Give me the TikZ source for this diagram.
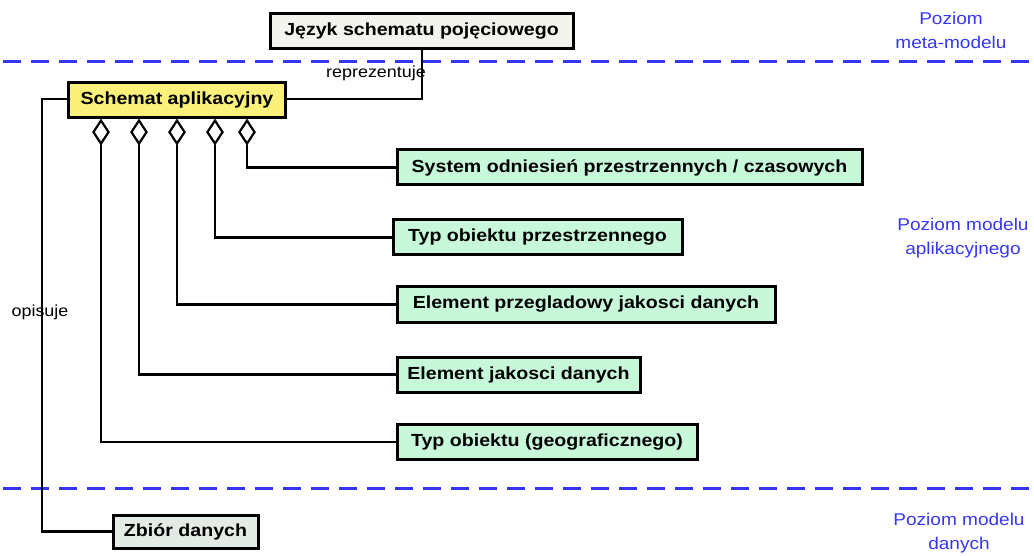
\documentclass[tikz,border=0pt]{standalone}
\usepackage{fontspec}
\setmainfont{Liberation Sans}
\newfontfamily\widesans[FakeStretch=1.12]{Liberation Sans}
\usetikzlibrary{shapes.geometric}
\definecolor{levelblue}{HTML}{3636F5}
\definecolor{metafill}{HTML}{F4F4EE}
\definecolor{appfill}{HTML}{FAF07A}
\definecolor{classfill}{HTML}{C8F8DA}
\definecolor{datafill}{HTML}{E4EBE4}
\tikzset{
  box/.style={draw=black, line width=3pt, rectangle, inner sep=0pt,
    minimum height=35pt, font=\widesans\fontsize{17.5}{20}\selectfont\bfseries},
  level/.style={font=\widesans\fontsize{17}{24}\selectfont, text=levelblue, align=center},
  sep/.style={draw=levelblue, line width=3pt, dash pattern=on 18pt off 10pt},
  conn/.style={draw=black, line width=2.8pt},
  agg/.style={diamond, draw=black, fill=white, line width=2.2pt, inner sep=0pt,
    minimum width=16pt, minimum height=24pt, anchor=north},
  rolelabel/.style={font=\widesans\fontsize{16}{18}\selectfont, inner sep=0pt}
}
\begin{document}
\begin{tikzpicture}[x=1pt,y=-1pt]
\useasboundingbox (0,0) rectangle (1034,556);

% level separators
\coordinate (s1a) at (3,62);   \coordinate (s1b) at (1034,62);
\coordinate (s2a) at (3,488);  \coordinate (s2b) at (1034,488);
\draw[sep] (s1a) -- (s1b);
\draw[sep] (s2a) -- (s2b);

% level names
\node[level] (lvmeta) at (951,30.5) {Poziom\\meta-modelu};
\node[level] (lvapp) at (963,238.5) {Poziom modelu\\aplikacyjnego};
\node[level] (lvdata) at (959,533.5) {Poziom modelu\\danych};

% classes
\node[box, fill=metafill, minimum width=303pt] (jezyk) at (421.5,31.5) {Język schematu pojęciowego};
\node[box, fill=appfill, minimum width=217pt, minimum height=35pt] (schemat) at (177,100) {Schemat aplikacyjny};
\node[box, fill=classfill, minimum width=465pt] (sys) at (629.5,167.5) {System odniesień przestrzennych / czasowych};
\node[box, fill=classfill, minimum width=289pt] (typp) at (537.5,237.5) {Typ obiektu przestrzennego};
\node[box, fill=classfill, minimum width=378pt] (elp) at (586,304.5) {Element przegladowy jakosci danych};
\node[box, fill=classfill, minimum width=243pt] (elj) at (518.5,374.5) {Element jakosci danych};
\node[box, fill=classfill, minimum width=300pt] (typg) at (547,442) {Typ obiektu (geograficznego)};
\node[box, fill=datafill, minimum width=145pt, minimum height=33pt] (zbior) at (185.5,531.5) {Zbiór danych};

% aggregation diamonds under the application schema
\node[agg] (d1) at (101,119) {};
\node[agg] (d2) at (139,119) {};
\node[agg] (d3) at (177,119) {};
\node[agg] (d4) at (215,119) {};
\node[agg] (d5) at (247,119) {};

\draw[conn] (d5.south) |- (sys.west);
\draw[conn] (d4.south) |- (typp.west);
\draw[conn] (d3.south) |- (elp.west);
\draw[conn] (d2.south) |- (elj.west);
\draw[conn] (d1.south) |- (typg.west);

% role labels
\node[rolelabel] (lrep) at (376,73) {reprezentuje};
\node[rolelabel] (lopi) at (40,312) {opisuje};

% associations
\coordinate (repcorner) at (422,99);
\draw[conn] (jezyk.south -| repcorner) -- (repcorner) -- (schemat.east |- repcorner);
\coordinate (opicorner) at (42,99);
\draw[conn] (schemat.west |- opicorner) -- (opicorner) |- (zbior.west);
\end{tikzpicture}
\end{document}
